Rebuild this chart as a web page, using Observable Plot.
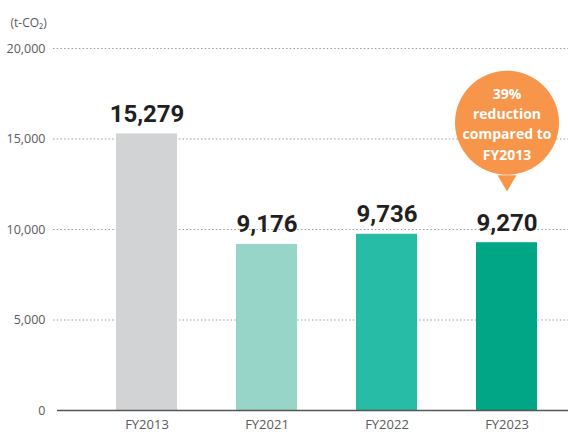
<!DOCTYPE html>
<html>
<head>
<meta charset="utf-8">
<script src="https://cdn.jsdelivr.net/npm/d3@7"></script>
<script src="https://cdn.jsdelivr.net/npm/@observablehq/plot@0.6"></script>
<style>
  html, body { margin: 0; padding: 0; background: #fff; }
  #chart svg { display: block; }
  #chart g[aria-label="y-axis tick label"] text { font-size: 12.5px; }
  #chart g[aria-label="x-axis tick label"] text { font-size: 13px; }
</style>
</head>
<body>
<div id="chart"></div>
<script>
const years = ["FY2013", "FY2021", "FY2022", "FY2023"];
const emissions = [15279, 9176, 9736, 9270];
const barColors = ["#d1d3d4", "#98d5c9", "#26bca5", "#00a685"];
const yTicks = [0, 5000, 10000, 15000, 20000];
const unitLabel = "(t-CO₂)";
const calloutText = "39%\nreduction\ncompared to\nFY2013";
const calloutYear = "FY2023";
const calloutY = 15900;     // circle centre in data units
const pointerY = 12700;     // pointer centre in data units

const data = years.map((y, i) => ({year: y, value: emissions[i], color: barColors[i]}));
const fmt = d3.format(",");

const chart = Plot.plot({
  width: 568,
  height: 432,
  marginTop: 48,
  marginBottom: 22,
  marginLeft: 57,
  marginRight: 0,
  style: {fontFamily: "'Open Sans', sans-serif", fontSize: "12px", color: "#5a5a5a", background: "#fff"},
  x: {domain: years, range: [86, 568], paddingInner: 0.49, paddingOuter: 0.245, label: null},
  y: {domain: [0, 20000], label: null},
  marks: [
    Plot.ruleY(yTicks.filter(d => d > 0), {stroke: "#9a9a9a", strokeDasharray: "1.5,2.2", strokeWidth: 1, insetLeft: -4}),
    Plot.barY(data, {x: "year", y: "value", fill: "color"}),
    Plot.ruleY([0], {stroke: "#555", strokeWidth: 1.5}),
    Plot.axisY({ticks: yTicks, tickFormat: d => fmt(d), tickSize: 0, tickPadding: 12, label: null, fill: "#5a5a5a", fontSize: 12.5}),
    Plot.axisX({tickSize: 0, tickPadding: 9, label: null, fill: "#5a5a5a", fontSize: 13}),
    Plot.text([unitLabel], {frameAnchor: "top-left", dx: -47, dy: -30, textAnchor: "start", fill: "#5a5a5a", fontSize: 12}),
    Plot.text(data, {x: "year", y: "value", text: d => fmt(d.value), lineAnchor: "bottom", dy: -12,
      fontSize: 24, fontWeight: "bold", fontFamily: "Roboto", fill: "#231f20"}),
    Plot.dot([{x: calloutYear, y: pointerY}], {x: "x", y: "y", symbol: "triangle", rotate: 180, r: 7, fill: "#f7964a", stroke: null}),
    Plot.dot([{x: calloutYear, y: calloutY}], {x: "x", y: "y", r: 52, fill: "#f7964a", stroke: null}),
    Plot.text([{x: calloutYear, y: calloutY, t: calloutText}], {x: "x", y: "y", text: "t", fill: "#fff",
      fontWeight: "bold", fontSize: 14, lineHeight: 1.45, fontFamily: "'Open Sans', sans-serif"})
  ]
});
document.getElementById("chart").appendChild(chart);
</script>
</body>
</html>
